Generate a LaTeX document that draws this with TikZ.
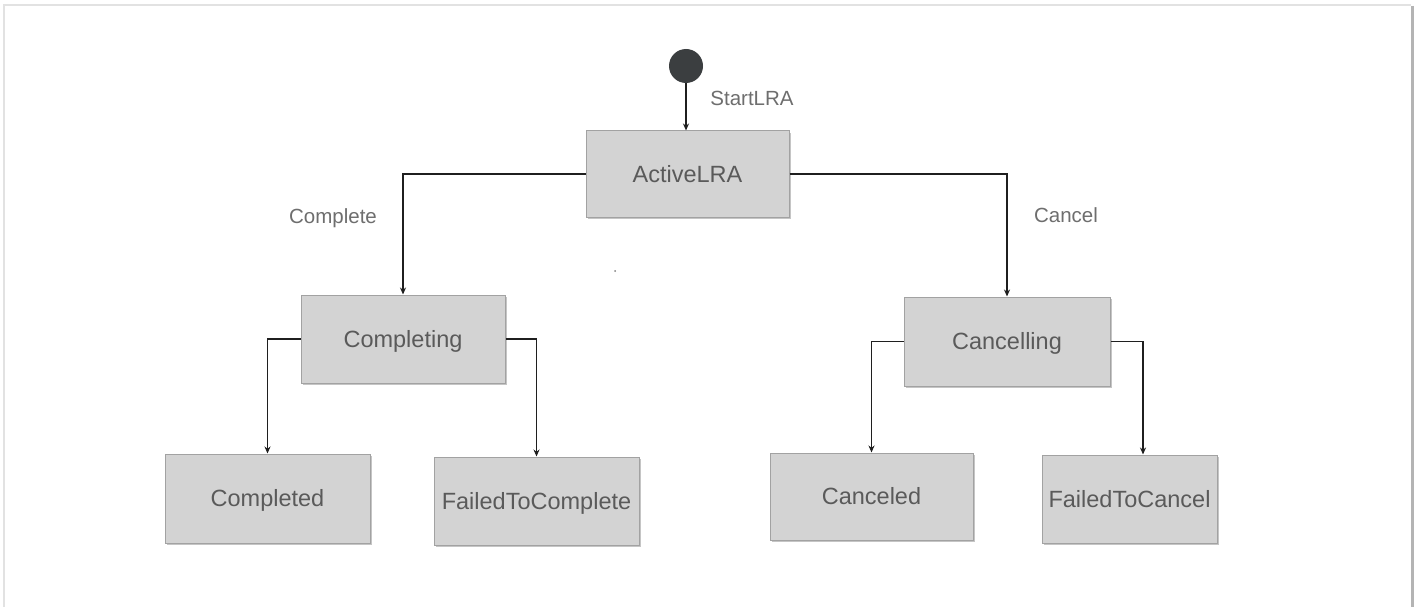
\documentclass[tikz,border=0pt]{standalone}
\usepackage{fontspec}
\setmainfont{Liberation Sans}
\usetikzlibrary{arrows.meta,shadows}
\definecolor{boxfill}{HTML}{D3D3D3}
\definecolor{boxline}{HTML}{A2A2A2}
\definecolor{boxtext}{HTML}{5A5A5A}
\definecolor{labeltext}{HTML}{6E6E6E}
\definecolor{startdot}{HTML}{3B3E40}
\definecolor{framelight}{HTML}{E2E2E2}
\definecolor{frameshade}{HTML}{B4B4B4}
\tikzset{
  state/.style={rectangle, draw=boxline, fill=boxfill, line width=1pt,
    text=boxtext, font=\fontsize{23.5}{27}\selectfont,
    text height=16.8pt, text depth=0pt, inner sep=0pt,
    drop shadow={shadow xshift=1.8pt, shadow yshift=-1.8pt, opacity=0.45, fill=gray}},
  trans/.style={text=labeltext, font=\fontsize{20.5}{24}\selectfont,
    text height=14.7pt, text depth=0pt, inner sep=0pt},
  arr/.style={draw=black!88, line width=1.2pt, -{Stealth[length=7pt,width=6pt]}},
}
\begin{document}
\begin{tikzpicture}[x=1pt,y=-1pt]
  \useasboundingbox (0,0) rectangle (1416,607);
  \fill[white] (0,0) rectangle (1416,607);
  % page frame
  \draw[framelight, line width=2pt] (4,612) -- (4,5) -- (1411,5);
  \draw[frameshade, line width=3pt] (1412,6) -- (1412,612);

  % initial pseudo-state
  \node[circle, fill=startdot, minimum size=34pt, inner sep=0pt] (start) at (686,66) {};

  % states
  \node[state, minimum width=203pt, minimum height=86pt] (active) at (687.5,174) {ActiveLRA};
  \node[state, minimum width=204pt, minimum height=88pt] (completing) at (403,339) {Completing};
  \node[state, minimum width=206pt, minimum height=89pt] (cancelling) at (1007,341.5) {Cancelling};
  \node[state, minimum width=205pt, minimum height=89pt] (completed) at (267.5,498.5) {Completed};
  \node[state, minimum width=205pt, minimum height=88pt] (failedcomplete) at (536.5,501) {FailedToComplete};
  \node[state, minimum width=203pt, minimum height=87pt] (canceled) at (871.5,496.5) {Canceled};
  \node[state, minimum width=175pt, minimum height=88pt] (failedcancel) at (1129.5,499) {FailedToCancel};

  % transition labels
  \node[trans] (lstart) at (752,98) {StartLRA};
  \node[trans] (lcomplete) at (333,216) {Complete};
  \node[trans] (lcancel) at (1066,215) {Cancel};

  % transitions
  \draw[arr] (start.south) -- (start.south |- active.north);
  \draw[arr] (active.west) -| (completing.north);
  \draw[arr] (active.east) -| (cancelling.north);
  \draw[arr] (completing.west) -| (completed.north);
  \draw[arr] (completing.east) -| (failedcomplete.north);
  \draw[arr] (cancelling.west) -| (canceled.north);
  \draw[arr] (cancelling.east) -| ([xshift=13.5pt]failedcancel.north);

  % stray speck on the canvas
  \fill[gray] (615,271) circle (1pt);
\end{tikzpicture}
\end{document}
